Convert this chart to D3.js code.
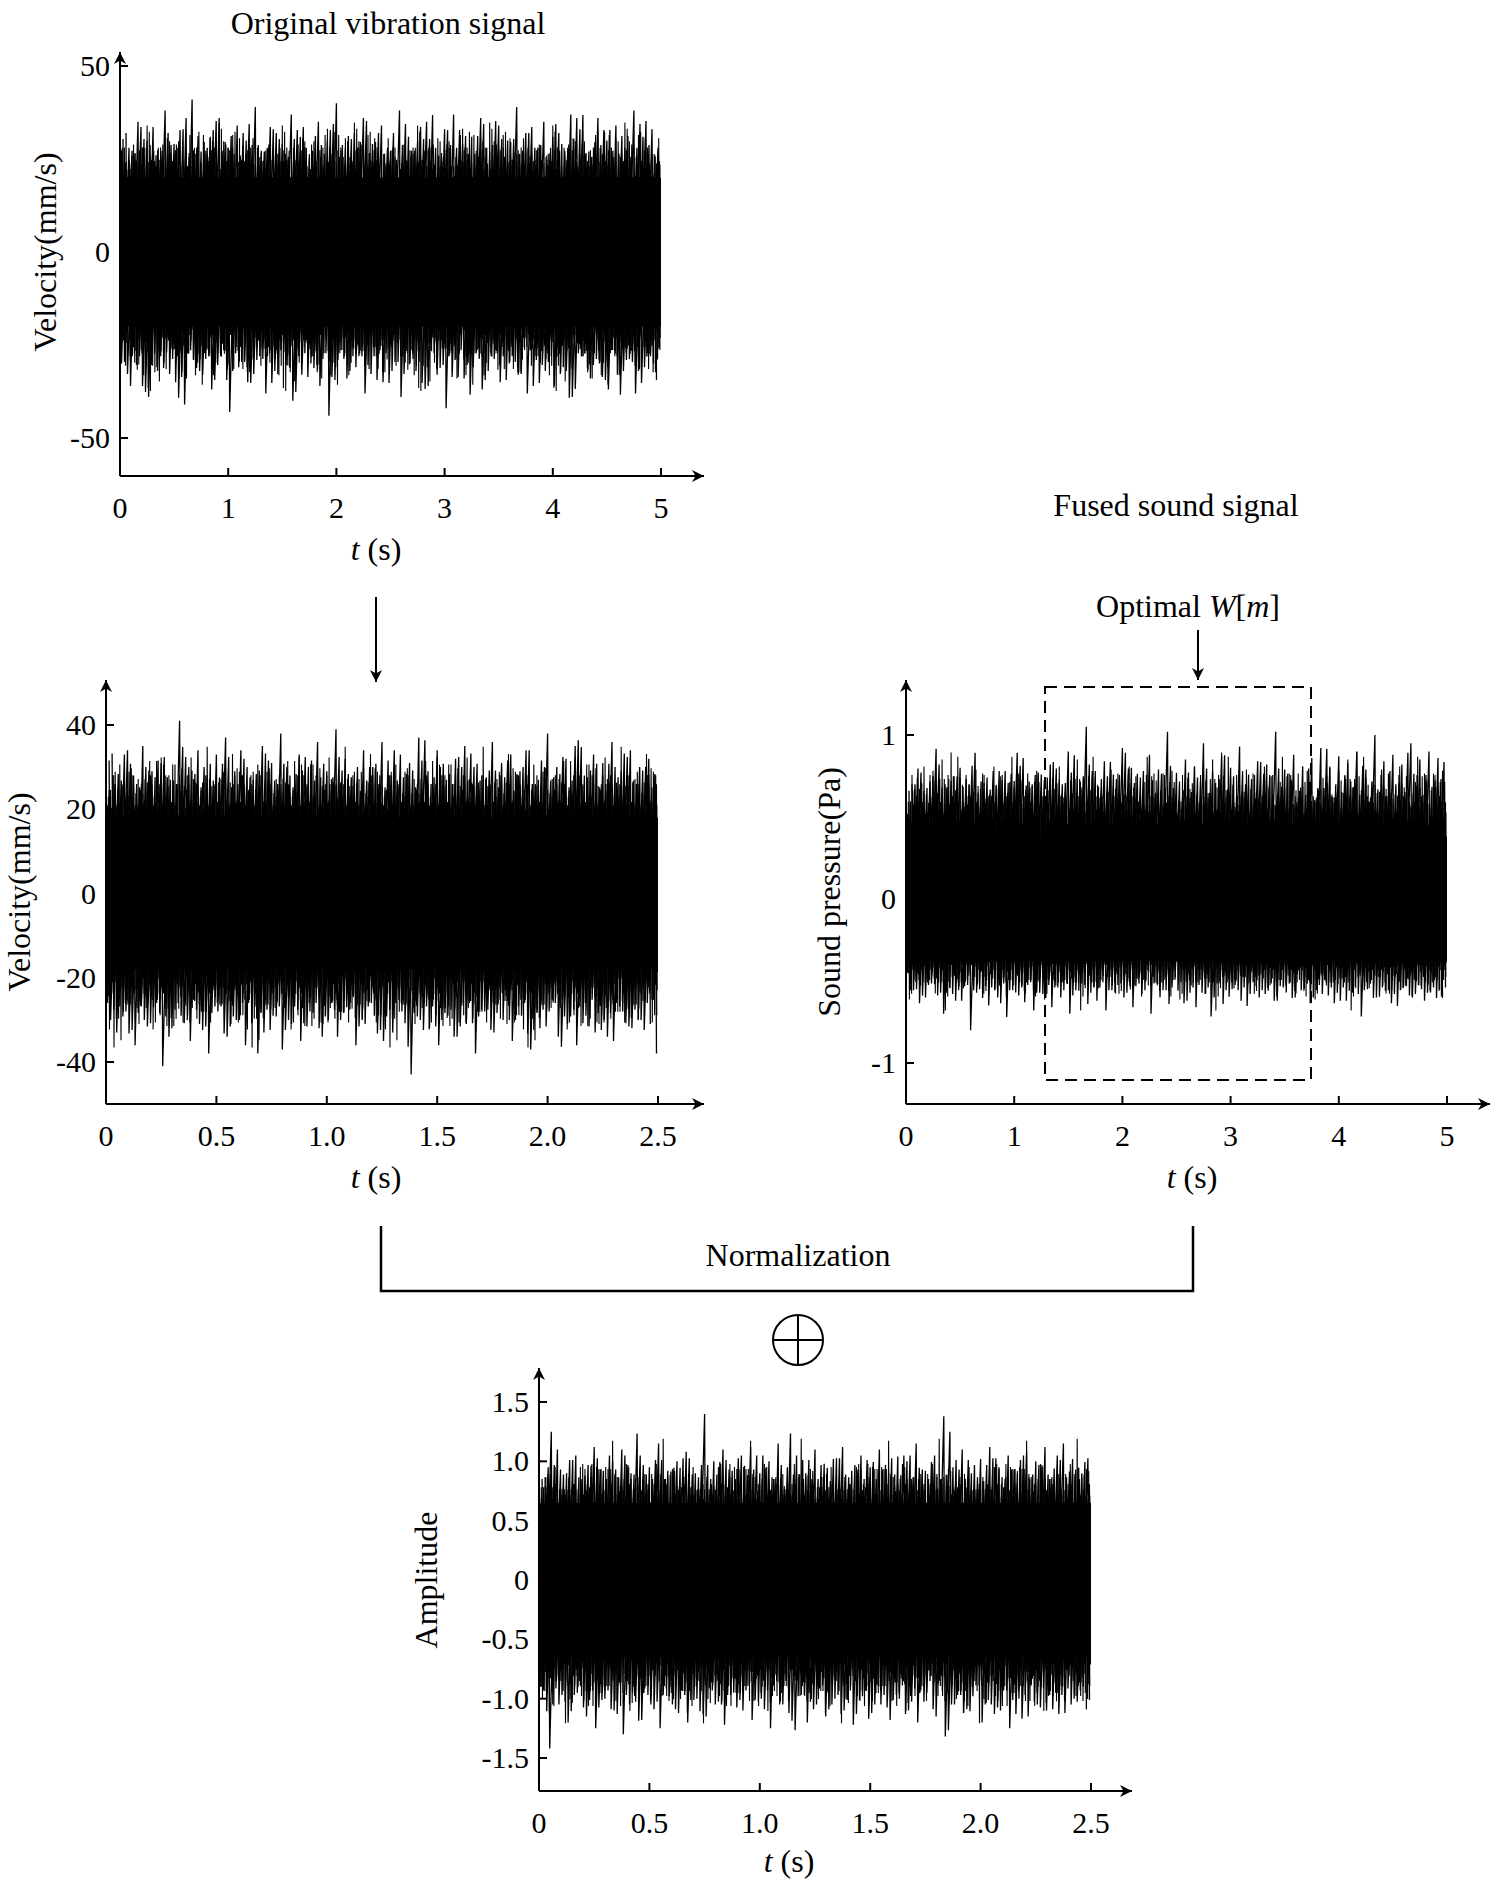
<!DOCTYPE html>
<html><head><meta charset="utf-8">
<script src="https://cdn.jsdelivr.net/npm/d3@7"></script>
<style>body{margin:0;background:#fff}svg text{font-family:"Liberation Serif","Times New Roman",serif;fill:#000}</style>
</head><body><svg id="c" width="1491" height="1883"></svg>
<script>
// Estimated envelope peaks (positive and negative excursions)
const vibTop=[32,28,35,30,26,38,29,33,41,27,31,36,28,34,30,39,27,33,29,37,31,26,35,30,40,28,32,36,29,34,27,38,31,30,35,28,33,37,29,31,36,27,34,30,39,32,28,35,31,29,37,33,27,36,30,34,28,38,31,33];
const vibBot=[-30,-36,-28,-39,-32,-27,-35,-41,-29,-33,-37,-28,-43,-31,-35,-29,-38,-32,-27,-40,-33,-30,-36,-44,-29,-34,-31,-38,-28,-35,-32,-39,-30,-27,-36,-33,-42,-29,-34,-31,-37,-28,-35,-30,-33,-38,-29,-32,-36,-31,-39,-28,-34,-30,-37,-33,-29,-38,-31,-30];
const vibCore=20;
const segTop=[30,26,33,28,35,29,31,27,41,30,34,28,33,37,29,32,27,35,31,38,28,33,30,36,29,39,32,27,34,30,36,28,33,31,37,29,34,27,32,35,30,28,36,31,33,29,34,27,38,30,32,35,28,33,31,36,29,34,30,32];
const segBot=[-26,-33,-28,-36,-30,-27,-41,-32,-29,-35,-31,-38,-28,-34,-30,-36,-27,-33,-29,-37,-31,-35,-28,-32,-30,-34,-27,-36,-31,-29,-35,-33,-28,-43,-30,-32,-36,-29,-34,-31,-38,-28,-33,-30,-35,-29,-37,-32,-28,-34,-31,-36,-29,-33,-30,-35,-28,-32,-30,-31];
const segCore=18;
const sndTop=[0.62,0.7,0.66,0.75,0.68,0.72,0.8,0.7,0.65,0.74,0.69,0.78,0.72,0.86,0.7,0.76,0.82,0.73,0.9,0.75,1.05,0.78,0.84,0.76,0.92,0.8,0.74,0.88,0.79,1.02,0.77,0.85,0.81,0.95,0.78,0.87,0.8,0.93,0.76,0.84,0.82,1.02,0.79,0.88,0.81,0.86,0.92,0.8,0.87,0.83,0.9,0.79,1.0,0.84,0.88,0.82,0.95,0.85,0.9,0.86];
const sndBot=[-0.45,-0.55,-0.6,-0.52,-0.7,-0.58,-0.62,-0.8,-0.55,-0.65,-0.6,-0.72,-0.57,-0.63,-0.68,-0.58,-0.66,-0.6,-0.7,-0.56,-0.64,-0.62,-0.68,-0.57,-0.6,-0.66,-0.58,-0.7,-0.6,-0.64,-0.56,-0.62,-0.66,-0.58,-0.6,-0.64,-0.55,-0.62,-0.58,-0.6,-0.56,-0.62,-0.57,-0.6,-0.55,-0.6,-0.58,-0.54,-0.62,-0.56,-0.58,-0.55,-0.6,-0.56,-0.58,-0.54,-0.6,-0.55,-0.57,-0.55];
const sndCore=0.38;
const ampTop=[0.8,0.95,1.1,0.9,1.05,0.88,1.12,0.92,1.0,1.1,0.9,1.05,0.95,1.15,0.92,1.0,1.08,0.9,1.4,1.0,1.1,0.92,1.05,1.12,0.9,1.0,1.15,0.95,1.05,0.9,1.1,0.98,1.02,1.12,0.92,1.05,0.95,1.1,0.9,1.04,1.0,1.15,0.92,1.05,1.38,0.95,1.1,0.9,1.02,1.12,0.95,1.05,0.9,1.08,1.0,1.12,0.94,1.15,1.02,0.9];
const ampBot=[-0.9,-1.42,-1.05,-1.2,-0.95,-1.15,-1.25,-1.0,-1.1,-1.3,-0.95,-1.18,-1.05,-1.25,-0.98,-1.12,-1.2,-1.0,-1.15,-1.05,-1.22,-0.95,-1.1,-1.18,-1.0,-1.25,-1.05,-1.12,-0.98,-1.2,-1.05,-1.15,-1.0,-1.1,-1.22,-0.98,-1.12,-1.05,-1.18,-1.0,-1.1,-1.2,-0.95,-1.15,-1.32,-1.05,-1.12,-0.98,-1.2,-1.05,-1.1,-1.25,-1.0,-1.15,-1.05,-1.1,-0.95,-1.12,-1.0,-0.9];
const ampCore=0.65;
const ticks1x=[0,1,2,3,4,5], ticks1y=[-50,0,50];
const ticks2x=[0,0.5,1.0,1.5,2.0,2.5], ticks2y=[-40,-20,0,20,40];
const ticks3x=[0,1,2,3,4,5], ticks3y=[-1,0,1];
const ticks4x=[0,0.5,1.0,1.5,2.0,2.5], ticks4y=[-1.5,-1.0,-0.5,0,0.5,1.0,1.5];

const svg=d3.select("#c");
const defs=svg.append("defs");
defs.append("marker").attr("id","ar").attr("viewBox","0 0 10 10").attr("refX",10).attr("refY",5)
 .attr("markerWidth",16).attr("markerHeight",12).attr("markerUnits","userSpaceOnUse").attr("orient","auto")
 .append("path").attr("d","M0,0L10,5L0,10L3,5Z").attr("fill","#000");

function chart(o){
 const g=svg.append("g");
 const x=d3.scaleLinear().domain(o.xd).range([o.x0,o.x1]);
 const y=d3.scaleLinear().domain(o.yd).range([o.y0,o.y1]);
 const fmt=o.fx;
 g.append("line").attr("x1",o.ax).attr("x2",o.xEnd).attr("y1",o.axY).attr("y2",o.axY).attr("stroke","#000").attr("stroke-width",2).attr("marker-end","url(#ar)");
 g.append("line").attr("x1",o.ax).attr("x2",o.ax).attr("y1",o.axY).attr("y2",o.yEnd).attr("stroke","#000").attr("stroke-width",2).attr("marker-end","url(#ar)");
 o.tx.forEach(t=>{g.append("line").attr("x1",x(t)).attr("x2",x(t)).attr("y1",o.axY).attr("y2",o.axY-8).attr("stroke","#000").attr("stroke-width",2);
  g.append("text").attr("x",x(t)).attr("y",o.axY+42).attr("text-anchor","middle").attr("font-size",30).text(fmt(t));});
 o.ty.forEach(t=>{g.append("line").attr("x1",o.ax).attr("x2",o.ax+8).attr("y1",y(t)).attr("y2",y(t)).attr("stroke","#000").attr("stroke-width",2);
  g.append("text").attr("x",o.ax-10).attr("y",y(t)+10).attr("text-anchor","end").attr("font-size",30).text(o.fy(t));});
 const n=o.top.length, t0=o.xd[0], t1=o.dEnd;
 const ts=d3.scaleLinear().domain([0,n]).range([t0,t1]);
 g.append("rect").attr("x",x(t0)).attr("width",x(t1)-x(t0)).attr("y",y(o.core)).attr("height",y(-o.core)-y(o.core)).attr("fill","#000");
 const pts=[];
 for(let r=0;r<3;r++){
  for(let i=0;i<n;i++){
   const k=(i+r*17)%n;
   const a=ts(i+r/3), b=ts(i+r/3+1/6);
   pts.push([x(a),y(r===0?o.top[k]:o.top[k]*0.8+0.2*o.core)]);
   pts.push([x(b),y(r===0?o.bot[k]:o.bot[k]*0.8-0.2*o.core)]);
  }
  pts.push(null);
 }
 let d="";let mv=true;
 pts.forEach(p=>{if(!p){mv=true;return;}d+=(mv?"M":"L")+p[0].toFixed(1)+","+p[1].toFixed(1);mv=false;});
 g.append("path").attr("d",d).attr("fill","none").attr("stroke","#000").attr("stroke-width",1.3);
 [[4,7,11,0.85],[6,5,13,0.72],[8,3,17,0.62]].forEach(([m,p,q,s])=>{
  let d2="";
  for(let i=0;i<n*m;i++){const k=i%n;
   d2+=(i?"L":"M")+x(ts(i/m)).toFixed(1)+","+y(o.top[(k*p)%n]*s).toFixed(1)+"L"+x(ts(i/m+0.5/m)).toFixed(1)+","+y(o.bot[(k*q)%n]*s).toFixed(1);}
  g.append("path").attr("d",d2).attr("fill","none").attr("stroke","#000").attr("stroke-width",1.1);
 });
 g.append("text").attr("x",o.xl[0]).attr("y",o.xl[1]).attr("text-anchor","middle").attr("font-size",32)
  .html('<tspan font-style="italic">t</tspan> (s)');
 g.append("text").attr("transform",`translate(${o.yl[0]},${o.yl[1]}) rotate(-90)`).attr("text-anchor","middle").attr("font-size",32).text(o.ylab);
}
const f1=d=>String(d), f2=d=>d===0?"0":d.toFixed(1);
chart({xd:[0,5],x0:120,x1:661,yd:[-50,50],y0:438,y1:66,ax:120,axY:476,xEnd:704,yEnd:52,tx:ticks1x,ty:ticks1y,fx:f1,fy:f1,
 top:vibTop,bot:vibBot,core:vibCore,dEnd:5,xl:[376,560],yl:[56,252],ylab:"Velocity(mm/s)"});
chart({xd:[0,2.5],x0:106,x1:658,yd:[-40,40],y0:1062,y1:725,ax:106,axY:1104,xEnd:704,yEnd:680,tx:ticks2x,ty:ticks2y,fx:f2,fy:f1,
 top:segTop,bot:segBot,core:segCore,dEnd:2.5,xl:[376,1188],yl:[30,892],ylab:"Velocity(mm/s)"});
chart({xd:[0,5],x0:906,x1:1447,yd:[-1,1],y0:1063,y1:735,ax:906,axY:1104,xEnd:1490,yEnd:680,tx:ticks3x,ty:ticks3y,fx:f1,fy:f1,
 top:sndTop,bot:sndBot,core:sndCore,dEnd:5,xl:[1192,1188],yl:[840,892],ylab:"Sound pressure(Pa)"});
chart({xd:[0,2.5],x0:539,x1:1091,yd:[-1.5,1.5],y0:1758,y1:1402,ax:539,axY:1791,xEnd:1132,yEnd:1368,tx:ticks4x,ty:ticks4y,fx:f2,fy:f2,
 top:ampTop,bot:ampBot,core:ampCore,dEnd:2.5,xl:[789,1872],yl:[437,1580],ylab:"Amplitude"});

svg.append("text").attr("x",388).attr("y",34).attr("text-anchor","middle").attr("font-size",32).text("Original vibration signal");
svg.append("text").attr("x",1176).attr("y",516).attr("text-anchor","middle").attr("font-size",32).text("Fused sound signal");
svg.append("text").attr("x",1188).attr("y",617).attr("text-anchor","middle").attr("font-size",32).html('Optimal <tspan font-style="italic">W</tspan>[<tspan font-style="italic">m</tspan>]');
svg.append("line").attr("x1",376).attr("x2",376).attr("y1",597).attr("y2",682).attr("stroke","#000").attr("stroke-width",2).attr("marker-end","url(#ar)");
svg.append("line").attr("x1",1198).attr("x2",1198).attr("y1",630).attr("y2",680).attr("stroke","#000").attr("stroke-width",2).attr("marker-end","url(#ar)");
svg.append("rect").attr("x",1045).attr("y",687).attr("width",266).attr("height",393).attr("fill","none").attr("stroke","#000").attr("stroke-width",2).attr("stroke-dasharray","12,7");
svg.append("path").attr("d","M381,1226V1291H1193V1226").attr("fill","none").attr("stroke","#000").attr("stroke-width",2.5);
svg.append("text").attr("x",798).attr("y",1266).attr("text-anchor","middle").attr("font-size",32).text("Normalization");
svg.append("circle").attr("cx",798).attr("cy",1340).attr("r",25).attr("fill","none").attr("stroke","#000").attr("stroke-width",2);
svg.append("path").attr("d","M773,1340H823M798,1315V1365").attr("stroke","#000").attr("stroke-width",2);
</script></body></html>
